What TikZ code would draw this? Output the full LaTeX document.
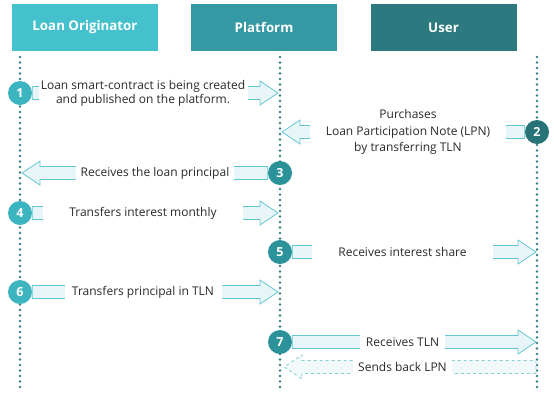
\documentclass[tikz,border=0pt]{standalone}
\usepackage{fontspec}
\setmainfont{Open Sans}
\usetikzlibrary{calc}
\definecolor{hdrA}{HTML}{45C1CD}
\definecolor{hdrB}{HTML}{3499A2}
\definecolor{hdrC}{HTML}{2C7A7F}
\definecolor{numA}{HTML}{3DB5C1}
\definecolor{numB}{HTML}{2B929A}
\definecolor{numC}{HTML}{287378}
\definecolor{arrLine}{HTML}{62C6D1}
\definecolor{arrFill}{HTML}{E8F5F8}
\definecolor{dashLine}{HTML}{86CDD5}
\definecolor{dashFill}{HTML}{F2F9FB}
\definecolor{lifeC}{HTML}{357F84}
\definecolor{txt}{HTML}{2A2A2A}
\pgfdeclarelayer{lifelayer}
\pgfdeclarelayer{arrowlayer}
\pgfdeclarelayer{labellayer}
\pgfsetlayers{lifelayer,arrowlayer,labellayer,main}
\tikzset{
  hdr/.style={rectangle, minimum width=146pt, minimum height=47pt, inner sep=0pt,
    text=white, font=\bfseries\fontsize{13.3}{15}\selectfont},
  lifeline/.style={draw=lifeC, line width=2.7pt, line cap=round, dash pattern=on 0pt off 5.5pt},
  blockarr/.style={draw=arrLine, fill=arrFill, line width=0.8pt, line join=miter},
  dasharr/.style={draw=dashLine, fill=dashFill, line width=0.8pt, dashed},
  lbl/.style={fill=white, text=txt, font=\fontsize{12}{14}\selectfont, align=center,
    inner xsep=0pt, inner ysep=1pt, minimum height=15pt},
  num/.style={circle, minimum size=24pt, inner sep=0pt, text=white,
    font=\bfseries\fontsize{12.5}{14}\selectfont}
}
\newcommand\blockarrow[3][]{%
  \path[blockarr,#1] let \p1=(#2), \p2=(#3), \n1={sign(\x2-\x1)} in
    ({\x1},{\y1-6.5pt}) -- ({\x2-\n1*18pt},{\y1-6.5pt}) -- ({\x2-\n1*18pt},{\y1-12pt})
    -- ({\x2},{\y1}) -- ({\x2-\n1*18pt},{\y1+12pt}) -- ({\x2-\n1*18pt},{\y1+6.5pt})
    -- ({\x1},{\y1+6.5pt}) -- cycle;}
\begin{document}
\begin{tikzpicture}[x=1pt, y=-1pt]
\useasboundingbox (0,0) rectangle (554,400);
% headers
\node[hdr, fill=hdrA] (hLO) at (85,27.5) {Loan Originator};
\node[hdr, fill=hdrB] (hPL) at (264,27.5) {Platform};
\node[hdr, fill=hdrC] (hUS) at (443.5,27.5) {User};
% lifelines
\coordinate (LOt) at (20,57);  \coordinate (LOb) at (20,388);
\coordinate (PLt) at (280,57); \coordinate (PLb) at (280,388);
\coordinate (USt) at (537,57); \coordinate (USb) at (537,388);
\begin{pgfonlayer}{lifelayer}
\draw[lifeline] (LOt) -- (LOb);
\draw[lifeline] (PLt) -- (PLb);
\draw[lifeline] (USt) -- (USb);
\end{pgfonlayer}
% circles
\node[num, fill=numA] (c1) at (20,93) {1};
\node[num, fill=numC] (c2) at (537,132) {2};
\node[num, fill=numB] (c3) at (280,173) {3};
\node[num, fill=numA] (c4) at (20,213) {4};
\node[num, fill=numB] (c5) at (280,252) {5};
\node[num, fill=numA] (c6) at (20,292) {6};
\node[num, fill=numB] (c7) at (280,342) {7};
% arrow targets
\coordinate (e1) at (278,93);
\coordinate (e2) at (282,132);
\coordinate (e3) at (22,173);
\coordinate (e4) at (278,213);
\coordinate (e5) at (536,252);
\coordinate (e6) at (278,292);
\coordinate (e7) at (536,342);
\coordinate (s8) at (536,367);
\coordinate (e8) at (284,367);
% arrows
\begin{pgfonlayer}{arrowlayer}
\blockarrow{c1.east}{e1}
\blockarrow{c2.west}{e2}
\blockarrow{c3.west}{e3}
\blockarrow{c4.east}{e4}
\blockarrow{c5.east}{e5}
\blockarrow{c6.east}{e6}
\blockarrow{c7.east}{e7}
\blockarrow[dasharr]{s8}{e8}
\end{pgfonlayer}
% labels
\begin{pgfonlayer}{labellayer}
\node[lbl, minimum width=209pt] (t1) at (143,93) {Loan smart-contract is being created\\and published on the platform.};
\node[lbl, minimum width=196pt, font=\fontsize{12}{16.5}\selectfont] (t2) at (408,132) {Purchases\\Loan Participation Note (LPN)\\by transferring TLN};
\node[lbl, minimum width=158pt] (t3) at (155,173) {Receives the loan principal};
\node[lbl, minimum width=200pt] (t4) at (143,213) {Transfers interest monthly};
\node[lbl, minimum width=181pt] (t5) at (402.5,252) {Receives interest share};
\node[lbl, minimum width=157pt] (t6) at (143,292) {Transfers principal in TLN};
\node[lbl, minimum width=85pt] (t7) at (402.5,342) {Receives TLN};
\node[lbl, minimum width=99pt] (t8) at (402.5,367) {Sends back LPN};
\end{pgfonlayer}
\end{tikzpicture}
\end{document}
